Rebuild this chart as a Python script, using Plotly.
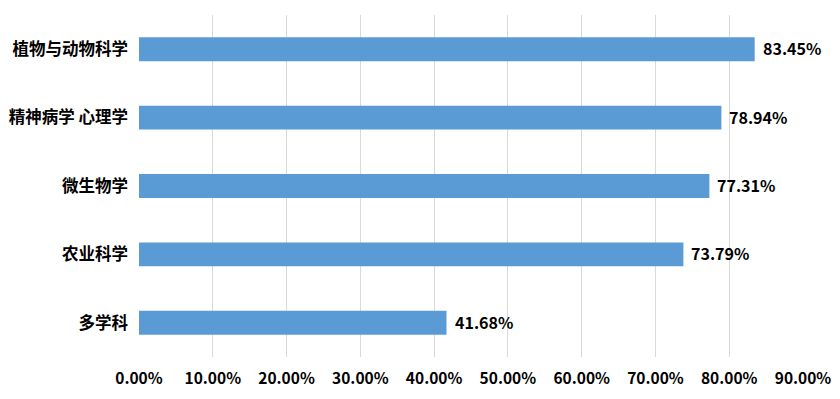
import plotly.graph_objects as go

categories = ["植物与动物科学", "精神病学 心理学", "微生物学", "农业科学", "多学科"]
values = [0.8345, 0.7894, 0.7731, 0.7379, 0.4168]
tick_values = [0, 0.1, 0.2, 0.3, 0.4, 0.5, 0.6, 0.7, 0.8, 0.9]

font_family = "Noto Sans CJK SC, Microsoft YaHei, sans-serif"

fig = go.Figure(go.Bar(
    y=categories,
    x=values,
    orientation="h",
    marker=dict(color="#5B9BD5", line=dict(width=0)),
    width=0.35,
    hoverinfo="x+y",
))

for c, v in zip(categories, values):
    fig.add_annotation(
        x=v, y=c, xref="x", yref="y",
        text=f"<b>{v*100:.2f}%</b>",
        showarrow=False, xanchor="left", yanchor="middle",
        xshift=6, yshift=1,
        font=dict(size=16, color="#000000", family=font_family),
    )

fig.update_layout(
    width=840, height=399,
    margin=dict(l=139, r=37, t=15, b=42, autoexpand=False),
    plot_bgcolor="white", paper_bgcolor="white",
    showlegend=False,
    font=dict(family=font_family, color="#000000"),
)
fig.update_xaxes(
    range=[0, 0.9],
    tickvals=tick_values,
    ticktext=[f"<b>{t*100:.2f}%</b>" for t in tick_values],
    tickfont=dict(size=15.5, color="#000000"),
    showgrid=True, gridcolor="#D9D9D9", gridwidth=1,
    zeroline=False, showline=False,
    ticks="", ticklabelstandoff=10, automargin=False,
)
fig.update_yaxes(
    categoryorder="array", categoryarray=categories[::-1],
    tickfont=dict(size=16.5, color="#000000"),
    ticklabelstandoff=10, automargin=False,
    showgrid=False, zeroline=False, showline=False, ticks="",
    tickprefix="<b>", ticksuffix="</b>",
)

fig.write_html(
    "out.html",
    config={"displayModeBar": False},
    post_script="document.body.style.margin='0';document.body.style.overflow='hidden';",
)
